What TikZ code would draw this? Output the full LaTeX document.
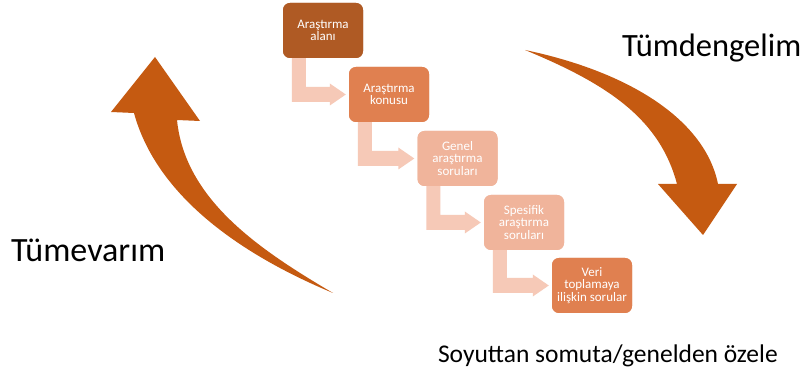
\documentclass[tikz,border=0pt]{standalone}
\usepackage{fontspec}
\setmainfont{Carlito}
\usetikzlibrary{calc}
\definecolor{cBoxA}{HTML}{AF5A24}
\definecolor{cBoxB}{HTML}{E08050}
\definecolor{cBoxC}{HTML}{F0B49B}
\definecolor{cBent}{HTML}{F6C9B7}
\definecolor{cBig}{HTML}{C55A11}
\tikzset{
  stepbox/.style={draw=none, rounded corners=7pt, minimum width=80pt, minimum height=55pt,
    inner sep=0pt, align=center, text=white, font=\fontsize{13}{12.5}\selectfont},
  bent/.style={fill=cBent},
  big/.style={fill=cBig},
  bigtext/.style={inner sep=0pt, outer sep=0pt, anchor=base west, text=black}
}
\begin{document}
\begin{tikzpicture}[x=1pt,y=-1pt]
\useasboundingbox[fill=white] (0,0) rectangle (807,374);
% boxes (placed first for names)
\path (323,30.5) node[stepbox, fill=cBoxA] (b1) {};
\path (389,94.5) node[stepbox, fill=cBoxB] (b2) {};
\path (457.5,158.5) node[stepbox, fill=cBoxC] (b3) {};
\path (524,222.5) node[stepbox, fill=cBoxC] (b4) {};
\path (592,285.5) node[stepbox, fill=cBoxB] (b5) {};
% bent arrows
\foreach \a/\b in {b1/b2,b2/b3,b3/b4,b4/b5}{
  \fill[bent] ($(\a.south west)+(9,-2)$) |- ($(\b.west)+(-19,7.5)$) -- ++(0,3.5)
    -- ($(\b.west)+(-3,0)$) -- ($(\b.west)+(-19,-11)$) -- ++(0,3.5)
    -| ($(\a.south west)+(23,-2)$) -- cycle;
}
% boxes on top
\path (323,30.5) node[stepbox, fill=cBoxA] {Araştırma\\alanı};
\path (389,94.5) node[stepbox, fill=cBoxB] {Araştırma\\konusu};
\path (457.5,158.5) node[stepbox, fill=cBoxC] {Genel\\araştırma\\soruları};
\path (524,222.5) node[stepbox, fill=cBoxC] {Spesifik\\araştırma\\soruları};
\path (592,285.5) node[stepbox, fill=cBoxB] {Veri\\toplamaya\\ilişkin sorular};
% left big arrow (Tümevarım)
\fill[big] (333,293) .. controls (230,250) and (155,190) .. (134,113)
  -- (111,112) -- (155,57) -- (200,121) -- (177,120)
  .. controls (185,200) and (260,250) .. (333,293) -- cycle;
% right big arrow (Tümdengelim)
\fill[big] (525,50) .. controls (630,72) and (705,120) .. (718,184)
  -- (737,184) -- (703,235) -- (658,184) -- (677,184)
  .. controls (660,120) and (610,85) .. (525,50) -- cycle;
% texts
\node[bigtext, font=\fontsize{32.5}{38}\selectfont] (tdg) at (622,57) {Tümdengelim};
\node[bigtext, font=\fontsize{34}{40}\selectfont] (tvr) at (11,262) {Tümevarım};
\node[bigtext, font=\fontsize{25.5}{30}\selectfont] (soy) at (438,363) {Soyuttan somuta/genelden özele};
\end{tikzpicture}
\end{document}
